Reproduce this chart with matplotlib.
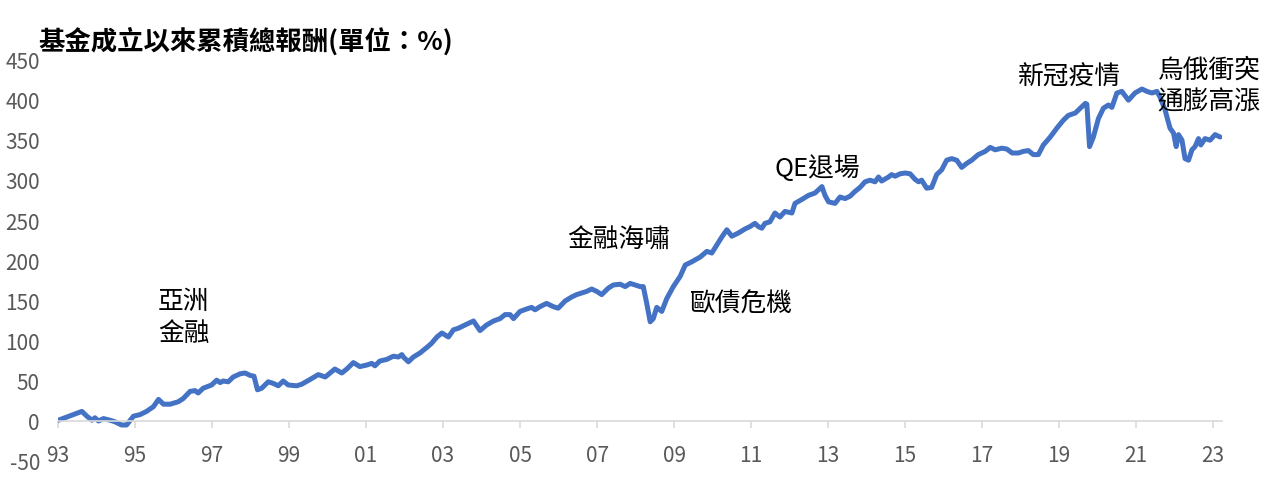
import matplotlib
matplotlib.use("Agg")
import matplotlib.pyplot as plt

plt.rcParams['font.family'] = ['Noto Sans CJK TC', 'DejaVu Sans']
plt.rcParams['axes.unicode_minus'] = False

TITLE = "基金成立以來累積總報酬(單位：%)"

# 讀圖得到的時間點(年)與累積報酬(%)
years = [
    1993.01, 1993.40, 1993.62, 1993.75, 1993.88, 1993.96, 1994.05, 1994.18, 1994.35, 1994.48,
    1994.65, 1994.78, 1994.96, 1995.13, 1995.30, 1995.48, 1995.61, 1995.74, 1995.91, 1996.12,
    1996.25, 1996.43, 1996.56, 1996.64, 1996.77, 1996.99, 1997.12, 1997.21, 1997.29, 1997.42,
    1997.55, 1997.73, 1997.86, 1997.99, 1998.09, 1998.18, 1998.29, 1998.46, 1998.59, 1998.72,
    1998.85, 1998.98, 1999.20, 1999.33, 1999.55, 1999.76, 1999.94, 2000.19, 2000.37, 2000.50,
    2000.67, 2000.84, 2001.02, 2001.15, 2001.23, 2001.36, 2001.54, 2001.71, 2001.84, 2001.93,
    2001.97, 2002.10, 2002.23, 2002.40, 2002.58, 2002.70, 2002.84, 2002.97, 2003.14, 2003.27,
    2003.40, 2003.57, 2003.79, 2003.96, 2004.13, 2004.31, 2004.48, 2004.61, 2004.74, 2004.83,
    2005.00, 2005.17, 2005.30, 2005.39, 2005.52, 2005.69, 2005.86, 2005.99, 2006.17, 2006.34,
    2006.47, 2006.60, 2006.73, 2006.86, 2006.99, 2007.12, 2007.29, 2007.42, 2007.60, 2007.73,
    2007.86, 2007.99, 2008.12, 2008.20, 2008.29, 2008.38, 2008.46, 2008.55, 2008.68, 2008.81,
    2008.98, 2009.16, 2009.29, 2009.46, 2009.68, 2009.85, 2009.98, 2010.11, 2010.24, 2010.37,
    2010.50, 2010.67, 2010.84, 2010.97, 2011.10, 2011.19, 2011.28, 2011.36, 2011.49, 2011.62,
    2011.75, 2011.88, 2012.06, 2012.14, 2012.32, 2012.49, 2012.66, 2012.84, 2012.92, 2013.01,
    2013.18, 2013.31, 2013.44, 2013.57, 2013.70, 2013.83, 2013.96, 2014.09, 2014.22, 2014.31,
    2014.39, 2014.57, 2014.65, 2014.74, 2014.87, 2015.00, 2015.13, 2015.26, 2015.35, 2015.43,
    2015.56, 2015.69, 2015.82, 2015.95, 2016.08, 2016.21, 2016.34, 2016.47, 2016.60, 2016.73,
    2016.90, 2017.08, 2017.21, 2017.34, 2017.51, 2017.64, 2017.78, 2017.94, 2018.07, 2018.20,
    2018.33, 2018.46, 2018.59, 2018.77, 2018.94, 2019.11, 2019.24, 2019.42, 2019.55, 2019.68,
    2019.72, 2019.79, 2019.89, 2020.02, 2020.15, 2020.28, 2020.37, 2020.50, 2020.63, 2020.80,
    2020.97, 2021.15, 2021.28, 2021.41, 2021.54, 2021.62, 2021.75, 2021.88, 2021.97, 2022.04,
    2022.10, 2022.19, 2022.27, 2022.36, 2022.45, 2022.53, 2022.62, 2022.68, 2022.79, 2022.92,
    2023.05, 2023.18,
]
returns = [
    1, 8, 12, 6, 1, 4, 0, 3, 1, -1,
    -5, -5, 6, 8, 12, 18, 27, 21, 21, 24,
    28, 37, 38, 35, 41, 45, 51, 48, 50, 49,
    55, 59, 60, 57, 56, 39, 41, 49, 47, 44,
    50, 45, 44, 46, 52, 58, 55, 65, 60, 65,
    73, 68, 70, 72, 69, 75, 77, 81, 80, 83,
    80, 74, 80, 85, 92, 97, 105, 110, 105, 114,
    116, 120, 125, 113, 120, 125, 128, 133, 133, 128,
    137, 140, 142, 139, 143, 147, 143, 141, 150, 155,
    158, 160, 162, 165, 162, 158, 166, 170, 171, 168,
    172, 170, 168, 168, 147, 124, 128, 142, 137, 153,
    168, 181, 195, 199, 205, 212, 210, 220, 230, 239,
    231, 235, 240, 243, 247, 243, 241, 247, 249, 260,
    255, 262, 260, 272, 277, 282, 285, 293, 282, 274,
    272, 280, 278, 281, 287, 292, 299, 301, 299, 305,
    300, 305, 308, 306, 309, 310, 309, 302, 299, 301,
    291, 292, 308, 314, 326, 328, 326, 317, 322, 326,
    333, 337, 342, 339, 341, 340, 335, 335, 337, 338,
    333, 333, 345, 355, 366, 376, 382, 385, 391, 397,
    396, 343, 355, 378, 391, 395, 392, 410, 412, 401,
    410, 415, 412, 410, 412, 405, 389, 366, 360, 343,
    358, 351, 328, 326, 339, 343, 353, 345, 353, 351,
    358, 355,
]

tick_years = list(range(1993, 2024, 2))
tick_labels = ["%02d" % (y % 100) for y in tick_years]
y_ticks = list(range(-50, 451, 50))

notes = ["亞洲\n金融", "金融海嘯", "歐債危機", "QE退場", "新冠疫情", "烏俄衝突\n通膨高漲"]
note_x = [1995.6, 2007.57, 2010.74, 2012.71, 2019.26, 2022.9]
note_y = [128.75, 225, 145, 316, 429, 418]
note_ha = ["left", "center", "center", "center", "center", "center"]

fig = plt.figure(figsize=(12.8, 4.9), dpi=100)
ax = fig.add_axes([58 / 1280, 1 - 461 / 490, (1222 - 58) / 1280, 400 / 490])

ax.plot(years, returns, color="#4472C4", linewidth=3.6, solid_joinstyle="round",
        solid_capstyle="round")

ax.set_xlim(1993.0, 2023.23)
ax.set_ylim(-50, 450)

for s in ["top", "right", "left"]:
    ax.spines[s].set_visible(False)
ax.spines["bottom"].set_position(("data", 0))
ax.spines["bottom"].set_color("#D9D9D9")
ax.spines["bottom"].set_linewidth(1.2)

ax.set_xticks(tick_years)
ax.set_xticklabels(tick_labels)
ax.set_yticks(y_ticks)
ax.tick_params(axis="x", length=5, width=1.2, color="#D9D9D9", pad=12,
               labelsize=15, labelcolor="#595959")
ax.tick_params(axis="y", length=0, pad=13, labelsize=15, labelcolor="#595959")

for t, x, y, ha in zip(notes, note_x, note_y, note_ha):
    ax.text(x, y, t, ha=ha, va="center", fontsize=18.5, color="#000000", linespacing=1.3)

fig.text(38 / 1280, 1 - 42 / 490, TITLE, ha="left", va="center", fontsize=19,
         fontweight="bold", color="#000000")

fig.savefig("out.png", dpi=100)
